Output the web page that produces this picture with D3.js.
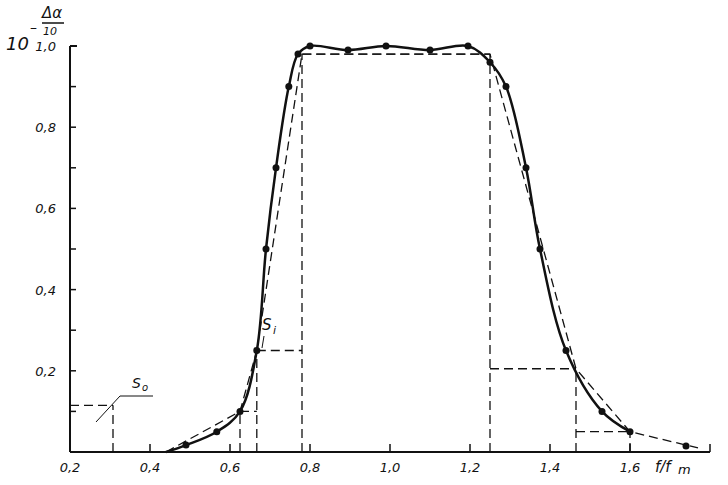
<!DOCTYPE html><html><head><meta charset="utf-8"><script src="https://cdn.jsdelivr.net/npm/d3@7"></script>
<style>body{margin:0;background:#fff}text{font-family:"DejaVu Sans",sans-serif;font-style:italic;fill:#111}</style></head><body>
<svg id="c" width="728" height="485"></svg>
<script>
const xTicks=[0.2,0.4,0.6,0.8,1.0,1.2,1.4,1.6];
const yTicks=[0.2,0.4,0.6,0.8,1.0];
const ptX=[0.49,0.567,0.625,0.667,0.69,0.715,0.747,0.77,0.8,0.895,0.99,1.1,1.195,1.25,1.29,1.34,1.375,1.44,1.53,1.6,1.74];
const ptY=[0.017,0.05,0.1,0.25,0.5,0.7,0.9,0.98,1.0,0.99,1.0,0.99,1.0,0.96,0.9,0.7,0.5,0.25,0.1,0.05,0.015];
const stepX=[0.625,0.667,0.78,1.25,1.465,1.6];
const stepY=[0.1,0.25,0.98,0.205,0.05];
const s0X=[0.2,0.3075], s0Y=0.115;
const apprX=[0.44,0.625,0.667,0.78,1.25,1.465,1.6,1.77];
const apprY=[0,0.1,0.25,0.98,0.98,0.205,0.05,0.01];
const svg=d3.select("#c");
const x=d3.scaleLinear().domain([0.2,1.8]).range([70,710]);
const y=d3.scaleLinear().domain([0,1]).range([452,46]);
const fmt=d=>d.toFixed(1).replace(".",",");
const g=svg.append("g");
g.append("line").attr("x1",x(0.2)).attr("x2",x(1.8)).attr("y1",y(0)).attr("y2",y(0)).attr("stroke","#111").attr("stroke-width",2);
g.append("line").attr("x1",x(0.2)).attr("x2",x(0.2)).attr("y1",y(0)).attr("y2",y(1)).attr("stroke","#111").attr("stroke-width",2);
g.append("line").attr("x1",x(0.2)).attr("x2",x(0.2)+7).attr("y1",y(1)).attr("y2",y(1)).attr("stroke","#111").attr("stroke-width",2);
d3.range(0.3,1.81,0.1).forEach(v=>g.append("line").attr("x1",x(v)).attr("x2",x(v)).attr("y1",y(0)).attr("y2",y(0)-(Math.round(v*10)%2?0:8)).attr("stroke","#111").attr("stroke-width",1.5));
[0.1,0.3,0.5,0.7,0.9].concat(yTicks).forEach(v=>g.append("line").attr("x1",x(0.2)).attr("x2",x(0.2)+6).attr("y1",y(v)).attr("y2",y(v)).attr("stroke","#111").attr("stroke-width",1.5));
xTicks.forEach(v=>g.append("text").attr("x",x(v)).attr("y",472).attr("text-anchor","middle").attr("font-size",13).text(fmt(v)));
yTicks.forEach(v=>g.append("text").attr("x",56).attr("y",y(v)+5).attr("text-anchor","end").attr("font-size",13).text(fmt(v)));
g.append("text").attr("x",655).attr("y",472).attr("font-size",15).text("f/f");
g.append("text").attr("x",678).attr("y",474).attr("font-size",13).text("m");
g.append("text").attr("x",6).attr("y",50).attr("font-size",18).text("10");
g.append("text").attr("x",30).attr("y",32).attr("font-size",14).text("–");
g.append("text").attr("x",42).attr("y",18).attr("font-size",15).text("Δα");
g.append("line").attr("x1",42).attr("x2",64).attr("y1",23).attr("y2",23).attr("stroke","#111").attr("stroke-width",1.5);
g.append("text").attr("x",43).attr("y",35).attr("font-size",11).text("10");
const dash={"stroke":"#111","stroke-width":1.3,"stroke-dasharray":"9,5","fill":"none"};
function dl(x1,y1,x2,y2){const l=g.append("line").attr("x1",x(x1)).attr("x2",x(x2)).attr("y1",y(y1)).attr("y2",y(y2));for(const k in dash)l.attr(k,dash[k]);}
dl(s0X[0],s0Y,s0X[1],s0Y);dl(s0X[1],0,s0X[1],s0Y);
for(let i=0;i<stepY.length;i++){dl(stepX[i],stepY[i],stepX[i+1],stepY[i]);}
stepX.forEach((v,i)=>{const h=Math.max(stepY[i]||0,stepY[i-1]||0);dl(v,0,v,h);});
const line=d3.line().x(d=>x(d[0])).y(d=>y(d[1]));
const ap=g.append("path").attr("d",line(apprX.map((v,i)=>[v,apprY[i]])));for(const k in dash)ap.attr(k,dash[k]);
const pts=[[0.44,0]].concat(ptX.map((v,i)=>[v,ptY[i]]));
const solid=pts.filter(p=>p[0]<=1.6);
g.append("path").attr("d",d3.line().curve(d3.curveCatmullRom).x(d=>x(d[0])).y(d=>y(d[1]))(solid)).attr("fill","none").attr("stroke","#111").attr("stroke-width",2.5);
ptX.forEach((v,i)=>g.append("circle").attr("cx",x(v)).attr("cy",y(ptY[i])).attr("r",3.5).attr("fill","#111"));
g.append("text").attr("x",262).attr("y",330).attr("font-size",15).text("S");
g.append("text").attr("x",273).attr("y",334).attr("font-size",11).text("i");
g.append("line").attr("x1",264).attr("x2",262).attr("y1",336).attr("y2",348).attr("stroke","#111");
g.append("text").attr("x",132).attr("y",388).attr("font-size",14).text("S");
g.append("text").attr("x",142).attr("y",391).attr("font-size",10).text("o");
g.append("line").attr("x1",120).attr("x2",153).attr("y1",396).attr("y2",396).attr("stroke","#111");
g.append("line").attr("x1",120).attr("x2",96).attr("y1",396).attr("y2",422).attr("stroke","#111");
</script></body></html>
